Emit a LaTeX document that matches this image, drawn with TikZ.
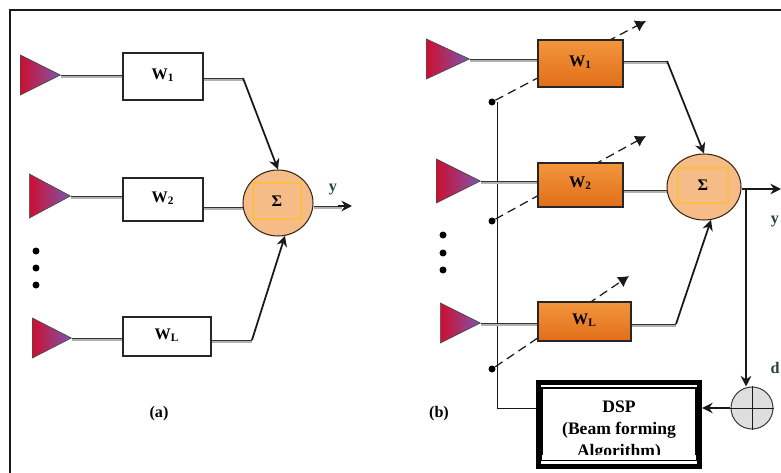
\documentclass[tikz,border=0pt]{standalone}
\usepackage{fontspec}
\setmainfont{Liberation Serif}
\usetikzlibrary{positioning, arrows.meta, calc, shapes.geometric}

\definecolor{antred}{RGB}{205,15,50}
\definecolor{antpurple}{RGB}{125,85,170}
\definecolor{sumfill}{RGB}{245,188,135}
\definecolor{sumsquare}{RGB}{250,190,70}
\definecolor{weighttop}{RGB}{243,150,60}
\definecolor{weightbot}{RGB}{225,110,25}
\definecolor{adderfill}{RGB}{222,222,222}
\definecolor{labelgreen}{RGB}{30,70,50}

\tikzset{
    ant/.style={isosceles triangle, isosceles triangle stretches, anchor=lower side, draw=black!70, left color=antred,
        right color=antpurple, inner sep=0pt, minimum width=0.8cm, minimum height=0.8cm},
    weight/.style={draw=black!85, line width=0.6pt, fill=white, inner sep=0pt, text depth=3pt, font=\bfseries\fontsize{9.2}{10}\selectfont},
    weightb/.style={weight, fill=none, top color=weighttop, bottom color=weightbot, line width=0.8pt},
    sumnode/.style={ellipse, draw=black!70!brown, fill=sumfill, line width=0.6pt, inner sep=0pt},
    sumbox/.style={draw=sumsquare, line width=0.8pt, inner sep=0pt, font=\bfseries\fontsize{9.2}{10}\selectfont},
    wire/.style={draw=black!80, line width=0.55pt},
    wireback/.style={draw=black!30, line width=1.4pt},
    arr/.style={-{Stealth[length=6pt,width=6pt]}, black!90, line width=1pt},
    dashedarr/.style={-{Latex[length=6pt,width=7pt]}, black!90, line width=0.7pt, dash pattern=on 5pt off 3pt},
    fbline/.style={black!90, line width=0.55pt},
    dotnode/.style={circle, fill=black, inner sep=0pt, minimum size=0.14cm},
    lbl/.style={font=\bfseries\fontsize{9.2}{10}\selectfont, align=center, inner sep=0pt}
}
% two-tone signal line
\newcommand{\sigwire}[2]{
    \path (#1) coordinate (wa) (#2) coordinate (wb);
    \draw[wireback] ($(wa)+(0,1.8)$) -- ($(wb)+(0,1.8)$);
    \draw[wire] (wa) -- (wb);
}

\begin{document}
\begin{tikzpicture}[x=0.02cm, y=-0.02cm, >=Stealth]
    \useasboundingbox (0,0) rectangle (781,473);
    % frame, open at the right and bottom
    \draw[line width=1.1pt, black!90] (10,473) -- (10,10) -- (781,10);

    % part (a)
    \node[ant] (a1) at (20,75) {};
    \node[ant, minimum width=0.88cm, minimum height=0.82cm] (a2) at (29,196) {};
    \node[ant, minimum height=0.78cm] (a3) at (32,338) {};
    \node[weight, minimum width=1.6cm, minimum height=0.94cm] (w1) at (163,76.5) {W\textsubscript{1}};
    \node[weight, minimum width=1.6cm, minimum height=0.86cm] (w2) at (163,199.5) {W\textsubscript{2}};
    \node[weight, minimum width=1.76cm, minimum height=0.78cm] (w3) at (167,336.5) {W\textsubscript{L}};
    \node[sumnode, minimum width=1.4cm, minimum height=1.32cm] (s) at (278,203) {};
    \node[sumbox, minimum width=0.96cm, minimum height=0.72cm] (sb) at (277,201) {Σ};
    \coordinate (b1) at (243,78);
    \coordinate (b2) at (243,207);
    \coordinate (b3) at (252,340);
    \coordinate (out) at (352,206);
    \sigwire{a1.apex}{a1.apex -| w1.west}
    \sigwire{a2.apex}{a2.apex -| w2.west}
    \sigwire{a3.apex}{a3.apex -| w3.west}
    \sigwire{b1 -| w1.east}{b1}
    \sigwire{b2 -| w2.east}{b2}
    \sigwire{b3 -| w3.east}{b3}
    \draw[arr] (b1) -- (s.north);
    \draw[arr] (b3) -- (s.-78);
    \sigwire{s.east |- out}{$(out)+(-10,0)$}
    \draw[arr] ($(out)+(-14,0)$) -- (out);
    \node[lbl, labelgreen] (y1) at (333,190) {y};
    \node[dotnode] (da1) at (36,251) {};
    \node[dotnode] (da2) at (36,268) {};
    \node[dotnode] (da3) at (36,285) {};
    \node[lbl] (capa) at (159,414) {(a)};

    % part (b)
    \node[dotnode] (p1) at (492,102) {};
    \node[dotnode] (p2) at (492,221) {};
    \node[dotnode] (p3) at (492,369) {};
    \coordinate (t1) at (646,21);
    \coordinate (t2) at (646,136);
    \coordinate (t3) at (629,276);
    \draw[dashedarr] (p1) -- (t1);
    \draw[dashedarr] (p2) -- (t2);
    \draw[dashedarr] (p3) -- (t3);
    \coordinate (bus) at (497,102);
    \coordinate (buslow) at (497,408);
    \draw[fbline] (bus) -- (buslow);
    \node[ant, minimum height=0.86cm] (c1) at (426,59) {};
    \node[ant, minimum width=0.88cm, minimum height=0.88cm] (c2) at (436,181) {};
    \node[ant] (c3) at (440,323) {};
    \node[weightb, minimum width=1.7cm, minimum height=0.94cm] (v1) at (580.5,63.5) {W\textsubscript{1}};
    \node[weightb, minimum width=1.7cm, minimum height=0.88cm] (v2) at (580.5,185) {W\textsubscript{2}};
    \node[weightb, minimum width=1.86cm, minimum height=0.78cm] (v3) at (584.5,321.5) {W\textsubscript{L}};
    \node[sumnode, minimum width=1.48cm, minimum height=1.32cm] (t) at (704,187) {};
    \node[sumbox, minimum width=1cm, minimum height=0.7cm] (tb) at (703,185.5) {Σ};
    \coordinate (e1) at (667,61);
    \coordinate (e2) at (667,190);
    \coordinate (e3) at (676,324);
    \coordinate (yout) at (781,189);
    \coordinate (tap) at (746,189);
    \sigwire{c1.apex}{c1.apex -| v1.west}
    \sigwire{c2.apex}{c2.apex -| v2.west}
    \sigwire{c3.apex}{c3.apex -| v3.west}
    \sigwire{e1 -| v1.east}{e1}
    \sigwire{e2 -| v2.east}{e2}
    \sigwire{e3 -| v3.east}{e3}
    \draw[arr] (e1) -- (t.north);
    \draw[arr] (e3) -- (t.-78);
    \draw[arr] (t.east |- yout) -- (yout);
    \node[lbl, labelgreen] (y2) at (775,222) {y};
    \node[lbl, labelgreen] (d) at (775,368) {d};
    \node[circle, draw=black!75, fill=adderfill, line width=0.6pt, minimum size=0.84cm, inner sep=0pt] (add) at (752,408) {};
    \draw[fbline] (add.north) -- (add.south);
    \draw[fbline] (add.west) -- (add.east);
    \node[draw=black, line width=3pt, minimum width=3.22cm, minimum height=1.68cm, inner sep=0pt] (dsp) at (619,424.5) {};
    \node[draw=black, line width=0.7pt, minimum width=3.08cm, minimum height=1.44cm, fill=white, inner sep=0pt] (dspin) at (619,424) {};
    \node[lbl, font=\bfseries\fontsize{10}{12.3}\selectfont, anchor=north] (dsptxt) at (619,401) {DSP\\(Beam forming\\Algorithm)};
    % the last text line is cut off by the box
    \fill[white] ($(dspin.south west)+(1,-6)$) rectangle ($(dspin.south east)+(-1,-1)$);
    \draw[fbline] (buslow) -- (dsp.west |- buslow);
    \draw[arr] (tap) -- (tap |- add.north);
    \draw[arr] (add.west) -- (dsp.east |- add.west);
    \node[dotnode] (db1) at (443,235) {};
    \node[dotnode] (db2) at (443,253) {};
    \node[dotnode] (db3) at (443,270) {};
    \node[lbl] (capb) at (439,414) {(b)};
\end{tikzpicture}
\end{document}
